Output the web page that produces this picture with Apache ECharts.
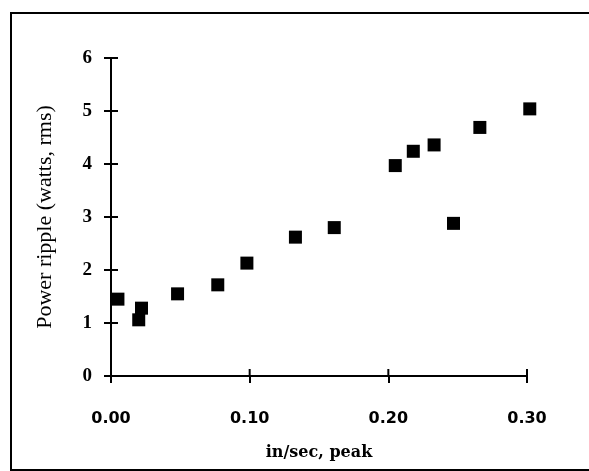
<!DOCTYPE html>
<html>
<head>
<meta charset="utf-8">
<script src="https://cdn.jsdelivr.net/npm/echarts@6/dist/echarts.min.js"></script>
<style>html,body{margin:0;padding:0;background:#fff}#c{width:589px;height:471px}</style>
</head>
<body>
<div id="c"></div>
<script>
var xValues = [0.005, 0.020, 0.022, 0.048, 0.077, 0.098, 0.133, 0.161, 0.205, 0.218, 0.233, 0.247, 0.266, 0.302];
var yValues = [1.45, 1.06, 1.28, 1.55, 1.72, 2.13, 2.62, 2.80, 3.97, 4.24, 4.36, 2.88, 4.69, 5.04];
var xTicks = [0, 0.10, 0.20, 0.30];
var yTicks = [0, 1, 2, 3, 4, 5, 6];
var xTitle = 'in/sec, peak';
var yTitle = 'Power ripple (watts, rms)';

var points = xValues.map(function (x, i) { return [x, yValues[i]]; });
var chart = echarts.init(document.getElementById('c'), null, {renderer: 'canvas'});
var axisLine = {show: true, lineStyle: {color: '#000', width: 2}};
var xMin = xTicks[0], xMax = xTicks[xTicks.length - 1];
var yMin = yTicks[0], yMax = yTicks[yTicks.length - 1];

chart.setOption({
  animation: false,
  backgroundColor: '#fff',
  grid: {left: 111, right: 62, top: 58, bottom: 95},
  graphic: [{
    id: 'frame',
    type: 'rect', shape: {x: 11, y: 13, width: 640, height: 457},
    style: {fill: 'none', stroke: '#000', lineWidth: 2}, silent: true
  }],
  xAxis: {
    type: 'value', min: xMin, max: xMax, interval: 0.1,
    axisLine: axisLine,
    axisTick: {show: true, inside: false, length: 7, lineStyle: {color: '#000', width: 2}},
    splitLine: {show: false},
    axisLabel: {margin: 35, color: '#000', fontFamily: 'DejaVu Sans', fontWeight: 'bold', fontSize: 16,
      formatter: function (v) { return v.toFixed(2); }},
    name: xTitle, nameLocation: 'middle', nameGap: 69,
    nameTextStyle: {color: '#000', fontFamily: 'DejaVu Serif', fontWeight: 'bold', fontSize: 16}
  },
  yAxis: {
    type: 'value', min: yMin, max: yMax, interval: 1,
    axisLine: axisLine,
    axisTick: {show: true, inside: false, length: 7, lineStyle: {color: '#000', width: 2}},
    splitLine: {show: false},
    axisLabel: {margin: 19, color: '#000', fontFamily: 'Liberation Serif', fontWeight: 'bold', fontSize: 19},
    name: yTitle, nameLocation: 'middle', nameGap: 55,
    nameTextStyle: {color: '#000', fontFamily: 'Liberation Serif', fontSize: 22}
  },
  series: [{
    type: 'scatter',
    symbol: 'rect', symbolSize: 13, clip: false,
    itemStyle: {color: '#000', opacity: 1},
    data: points, z: 3
  }]
});

// inner halves of the cross ticks, placed through the chart's own scales
var innerTicks = [];
xTicks.forEach(function (t, i) {
  var p = chart.convertToPixel({gridIndex: 0}, [t, yMin]);
  innerTicks.push({type: 'line', id: 'xt' + i, silent: true, z: 10,
    shape: {x1: p[0], y1: p[1], x2: p[0], y2: p[1] - 7},
    style: {stroke: '#000', lineWidth: 2}});
});
yTicks.forEach(function (t, i) {
  var p = chart.convertToPixel({gridIndex: 0}, [xMin, t]);
  innerTicks.push({type: 'line', id: 'yt' + i, silent: true, z: 10,
    shape: {x1: p[0], y1: p[1], x2: p[0] + 7, y2: p[1]},
    style: {stroke: '#000', lineWidth: 2}});
});
chart.setOption({graphic: innerTicks});
</script>
</body>
</html>
